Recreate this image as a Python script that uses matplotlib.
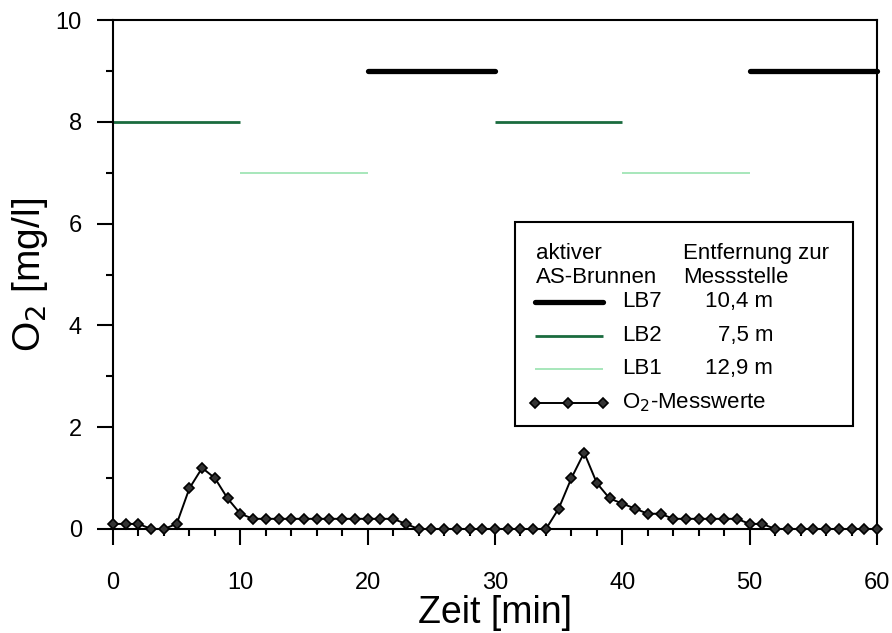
import matplotlib.pyplot as plt
from matplotlib.lines import Line2D
from matplotlib.patches import Rectangle
from matplotlib.ticker import MultipleLocator

plt.rcParams['font.family'] = ['Liberation Sans', 'DejaVu Sans']

# O2 measurements, one per minute
zeit = list(range(0, 61))
o2 = [0.1, 0.1, 0.1, 0.0, 0.0, 0.1, 0.8, 1.2, 1.0, 0.6,
      0.3, 0.2, 0.2, 0.2, 0.2, 0.2, 0.2, 0.2, 0.2, 0.2,
      0.2, 0.2, 0.2, 0.1, 0.0, 0.0, 0.0, 0.0, 0.0, 0.0,
      0.0, 0.0, 0.0, 0.0, 0.0, 0.4, 1.0, 1.5, 0.9, 0.6,
      0.5, 0.4, 0.3, 0.3, 0.2, 0.2, 0.2, 0.2, 0.2, 0.2,
      0.1, 0.1, 0.0, 0.0, 0.0, 0.0, 0.0, 0.0, 0.0, 0.0, 0.0]

# active wells: (start, end) intervals and level
lb7_intervals = [(20, 30), (50, 60)]
lb2_intervals = [(0, 10), (30, 40)]
lb1_intervals = [(10, 20), (40, 50)]
lb7_level, lb2_level, lb1_level = 9, 8, 7

brunnen = ['LB7', 'LB2', 'LB1']
entfernung = ['10,4 m', '7,5 m', '12,9 m']

styles = {
    'LB7': dict(color='black', lw=3.8, solid_capstyle='round'),
    'LB2': dict(color='#1a6b3e', lw=2.0, solid_capstyle='butt'),
    'LB1': dict(color='#8fe0a8', lw=1.1, solid_capstyle='butt'),
}
mstyle = dict(marker='D', markersize=5, markerfacecolor='#333333',
              markeredgecolor='black', markeredgewidth=1.2)

fig = plt.figure(figsize=(8.92, 6.33), dpi=100)
ax = fig.add_axes([0.1267, 0.1643, 0.8565, 0.8041])

for (a, b) in lb7_intervals:
    ax.plot([a, b], [lb7_level, lb7_level], clip_on=False, **styles['LB7'])
for (a, b) in lb2_intervals:
    ax.plot([a, b], [lb2_level, lb2_level], **styles['LB2'])
for (a, b) in lb1_intervals:
    ax.plot([a, b], [lb1_level, lb1_level], **styles['LB1'])

ax.plot(zeit, o2, color='black', lw=1.4, clip_on=False, zorder=5, **mstyle)

ax.set_xlim(0, 60)
ax.set_ylim(0, 10)
ax.xaxis.set_major_locator(MultipleLocator(10))
ax.xaxis.set_minor_locator(MultipleLocator(2))
ax.yaxis.set_major_locator(MultipleLocator(2))
ax.yaxis.set_minor_locator(MultipleLocator(1))
ax.tick_params(which='major', direction='out', length=11.5, width=1.5, labelsize=17)
ax.tick_params(which='minor', direction='out', length=5, width=1.5)
ax.tick_params(axis='x', which='major', pad=19.5)
ax.tick_params(axis='y', which='major', pad=11)
for s in ax.spines.values():
    s.set_linewidth(1.5)

ax.set_xlabel('Zeit [min]', fontsize=27, labelpad=1)
ax.set_ylabel('O$_2$ [mg/l]', fontsize=28, labelpad=4)

# legend box drawn by hand
T = ax.transAxes
ax.add_patch(Rectangle((0.526, 0.202), 0.4425, 0.402, transform=T, fill=False,
                       lw=1.5, edgecolor='black', zorder=6))
fs = 16
ax.text(0.553, 0.531, 'aktiver', transform=T, fontsize=fs, va='baseline')
ax.text(0.553, 0.484, 'AS-Brunnen', transform=T, fontsize=fs, va='baseline')
ax.text(0.746, 0.531, 'Entfernung zur', transform=T, fontsize=fs, va='baseline')
ax.text(0.746, 0.484, 'Messstelle', transform=T, fontsize=fs, va='baseline')
rows_y = [0.446, 0.380, 0.315]
for name, dist, yy in zip(brunnen, entfernung, rows_y):
    ax.add_line(Line2D([0.552, 0.641], [yy, yy], transform=T, zorder=7, **styles[name]))
    ax.text(0.666, yy, name, transform=T, fontsize=fs, va='center')
    ax.text(0.864, yy, dist, transform=T, fontsize=fs, va='center', ha='right')
ym = 0.248
ax.add_line(Line2D([0.552, 0.596, 0.641], [ym, ym, ym], transform=T, color='black',
                   lw=1.4, zorder=7, **mstyle))
ax.text(0.666, ym, 'O$_2$-Messwerte', transform=T, fontsize=fs, va='center')

fig.savefig('out.png', dpi=100)
